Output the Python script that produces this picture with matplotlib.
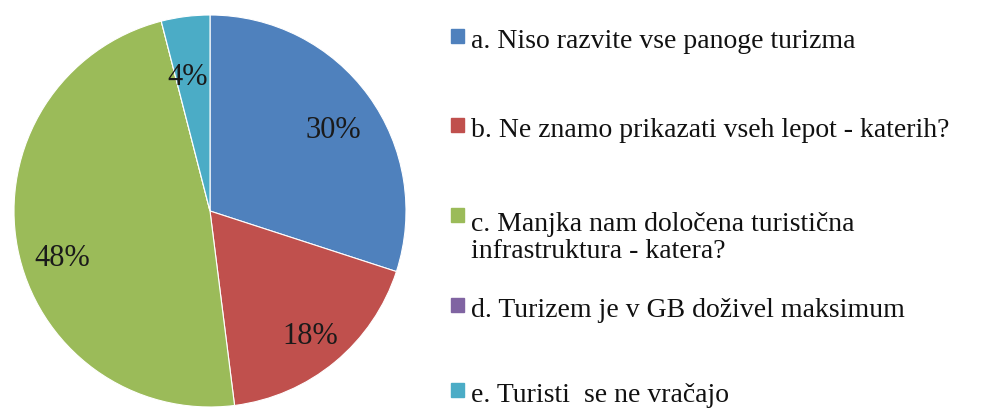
import matplotlib.pyplot as plt
from matplotlib.patches import Rectangle

# data
labels = [
    "a. Niso razvite vse panoge turizma",
    "b. Ne znamo prikazati vseh lepot - katerih?",
    "c. Manjka nam določena turistična\ninfrastruktura - katera?",
    "d. Turizem je v GB doživel maksimum",
    "e. Turisti  se ne vračajo",
]
shares = [30, 18, 48, 0, 4]
colors = ["#4F81BD", "#C0504D", "#9BBB59", "#8064A2", "#4BACC6"]

plt.rcParams['font.family'] = ['Liberation Serif', 'DejaVu Serif']

W, H = 994, 410
fig = plt.figure(figsize=(W / 100, H / 100), dpi=100)

# pie axes (pixel based placement)
cx, cy, r = 210, 198, 196
ax = fig.add_axes([(cx - r) / W, (cy - r) / H, 2 * r / W, 2 * r / H])

def pct_label(p):
    return f"{p:.0f}%" if p >= 0.5 else ""

wedges, _, pcts = ax.pie(shares, colors=colors, startangle=90, counterclock=False,
                         autopct=pct_label, pctdistance=0.76,
                         wedgeprops=dict(edgecolor="white", linewidth=0.8),
                         textprops=dict(fontsize=22, color="#1a1a1a"))
ax.set_xlim(-1, 1)
ax.set_ylim(-1, 1)
ax.set_aspect("equal")

# excel nudges its labels a bit off the mid angle (px: right, down)
nudge = [(3, 6), (5, 10), (-1, 19), (0, 0), (-4, 13)]
for t, (dx, dy) in zip(pcts, nudge):
    x, y = t.get_position()
    t.set_position((x + dx / r, y - dy / r))

# legend, drawn by hand to follow the spacing of the original
text_x = 471
line_px = 31
baselines = [48, 137, 227, 317, 402]   # px from top, first line of each entry
for lab, col, b in zip(labels, colors, baselines):
    last = b + line_px * lab.count("\n")
    fig.text(text_x / W, 1 - last / H, lab, fontsize=20, va="baseline",
             ha="left", linespacing=1.12, color="#111111")
    fig.add_artist(Rectangle((451 / W, 1 - (b - 4) / H), 13 / W, 14 / H,
                             transform=fig.transFigure, color=col))

fig.savefig("out.png", dpi=100)
